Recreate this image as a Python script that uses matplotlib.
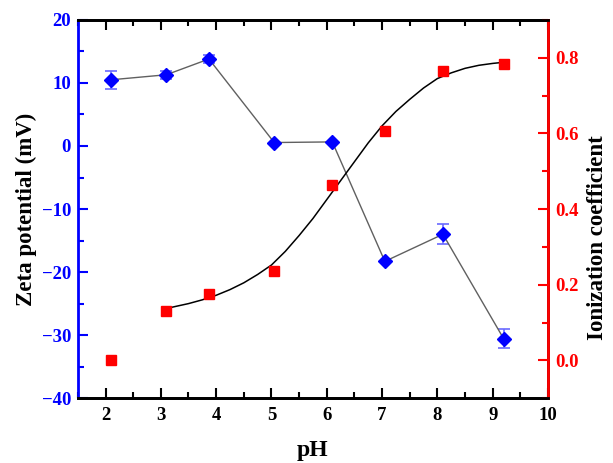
import matplotlib
matplotlib.use("Agg")
import matplotlib.pyplot as plt
from matplotlib.ticker import MultipleLocator, FormatStrFormatter

# data
ph = [2.1, 3.1, 3.87, 5.05, 6.1, 7.05, 8.1, 9.2]
zeta = [10.5, 11.3, 13.8, 0.55, 0.65, -18.3, -14.0, -30.6]
zeta_err = [1.4, 0.6, 0.7, 0.0, 0.0, 0.0, 1.6, 1.5]
ionization = [0.0, 0.13, 0.176, 0.237, 0.464, 0.605, 0.765, 0.783]

# fitted curve
fit_ph = [3.1, 3.25, 3.5, 3.75, 4.0, 4.25, 4.5, 4.75, 5.0, 5.25, 5.5, 5.75,
          6.0, 6.25, 6.5, 6.75, 7.0, 7.25, 7.5, 7.75, 8.0, 8.25, 8.5, 8.75,
          9.0, 9.2]
fit_ion = [0.137, 0.142, 0.150, 0.160, 0.172, 0.187, 0.205, 0.227, 0.252,
           0.288, 0.330, 0.375, 0.425, 0.475, 0.525, 0.575, 0.620, 0.658,
           0.690, 0.720, 0.745, 0.760, 0.772, 0.780, 0.785, 0.788]

BLUE = "#0000ff"
RED = "#ff0000"

plt.rcParams["font.family"] = "Liberation Serif"
plt.rcParams["font.weight"] = "bold"

fig = plt.figure(figsize=(6.13, 4.63), dpi=100)
ax = fig.add_axes([0.127, 0.140, 0.767, 0.817])
ax2 = ax.twinx()

ax.errorbar(ph, zeta, yerr=zeta_err, fmt="none", ecolor="#6a6aff",
            elinewidth=1.2, capsize=4, capthick=1.2, zorder=2)
ax.plot(ph, zeta, color="#606060", linewidth=1.0, zorder=3)
ax.plot(ph, zeta, linestyle="none", marker="D", color=BLUE,
        markersize=7.5, zorder=4)

ax2.plot(fit_ph, fit_ion, color="black", linewidth=1.1, zorder=3)
ax2.plot(ph, ionization, linestyle="none", marker="s", color=RED,
         markersize=6.5, zorder=4)

ax.set_xlim(1.5, 10)
ax.set_ylim(-40, 20)
ax2.set_ylim(-0.1, 0.9)

ax.xaxis.set_major_locator(MultipleLocator(1))
ax.xaxis.set_minor_locator(MultipleLocator(0.5))
ax.yaxis.set_major_locator(MultipleLocator(10))
ax.yaxis.set_minor_locator(MultipleLocator(5))
ax2.yaxis.set_major_locator(MultipleLocator(0.2))
ax2.yaxis.set_minor_locator(MultipleLocator(0.1))
ax2.yaxis.set_major_formatter(FormatStrFormatter("%.1f"))

ax.tick_params(axis="x", which="both", direction="in", top=True,
               labelsize=13.5, colors="black", width=1.5, pad=6)
ax.tick_params(axis="y", which="both", direction="in", colors=BLUE,
               labelsize=13.5, width=1.5, pad=5)
ax2.tick_params(axis="y", which="both", direction="in", colors=RED,
                labelsize=13.5, width=1.5, pad=5)
for a in (ax, ax2):
    a.tick_params(which="major", length=7)
    a.tick_params(which="minor", length=4)
    for s in a.spines.values():
        s.set_linewidth(2)
ax.spines["left"].set_color(BLUE)
ax2.spines["left"].set_visible(False)
ax2.spines["right"].set_color(RED)

ax.set_xlabel("pH", fontsize=17, fontweight="bold", labelpad=12)
ax.set_ylabel("Zeta potential (mV)", fontsize=16.5, fontweight="bold",
              labelpad=3)
# right label sits a bit below the axis centre in the reference
fig.text(0.975, 0.486, "Ionization coefficient", fontsize=16.5,
         fontweight="bold", rotation=90, ha="center", va="center")

fig.savefig("out.png", dpi=100)
